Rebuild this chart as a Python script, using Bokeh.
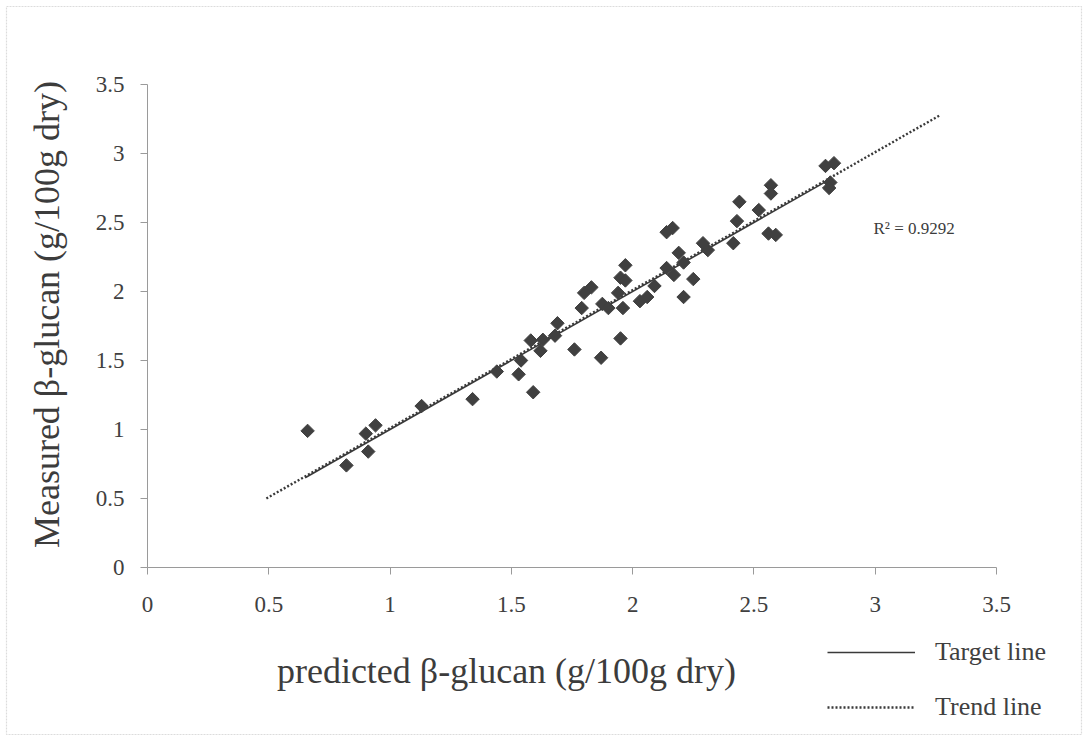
import math
from bokeh.plotting import figure
from bokeh.models import (Range1d, FixedTicker, Label, Legend, LegendItem,
                          BoxAnnotation, ColumnDataSource)
from bokeh.embed import file_html
from bokeh.resources import INLINE

# ---- data ----
predicted = [0.66, 0.82, 0.91, 0.90, 0.94, 1.13, 1.34, 1.59, 1.44, 1.53,
             1.54, 1.58, 1.63, 1.62, 1.68, 1.69, 1.76, 1.87, 1.95, 1.79,
             1.80, 1.83, 1.875, 1.90, 1.95, 1.94, 1.96, 1.97, 1.97, 2.03,
             2.06, 2.09, 2.14, 2.17, 2.14, 2.165, 2.19, 2.21, 2.21, 2.25,
             2.29, 2.31, 2.415, 2.43, 2.44, 2.52, 2.56, 2.59, 2.57, 2.57,
             2.795, 2.83, 2.815, 2.81]
measured = [0.99, 0.74, 0.84, 0.97, 1.03, 1.17, 1.22, 1.27, 1.42, 1.40,
            1.50, 1.645, 1.65, 1.57, 1.68, 1.77, 1.58, 1.52, 1.66, 1.88,
            1.99, 2.03, 1.91, 1.88, 2.10, 1.99, 1.88, 2.19, 2.08, 1.93,
            1.96, 2.04, 2.17, 2.12, 2.43, 2.46, 2.28, 2.21, 1.96, 2.09,
            2.35, 2.30, 2.35, 2.51, 2.65, 2.59, 2.42, 2.41, 2.77, 2.71,
            2.91, 2.93, 2.79, 2.75]

target_x = [0.65, 2.82]
target_y = [0.65, 2.82]
trend_x = [0.49, 3.27]
trend_y = [0.50, 3.28]

ticks = [0, 0.5, 1, 1.5, 2, 2.5, 3, 3.5]
axis_min, axis_max = 0, 3.5
r2_text = "R\u00b2 = 0.9292"
x_title = "predicted \u03b2-glucan (g/100g dry)"
y_title = "Measured \u03b2-glucan (g/100g dry)"
legend_labels = ["Target line", "Trend line"]

SERIF = "Liberation Serif"
W, H = 1083, 736
# pixel positions of the axis ends in the reference
PX0, PX1 = 147, 996   # x = 0 and x = 3.5
PY0, PY1 = 567, 84    # y = 0 and y = 3.5

# the frame covers the whole canvas; ranges chosen so the axes land where
# they are in the reference
kx = (PX1 - PX0) / (axis_max - axis_min)
ky = (PY0 - PY1) / (axis_max - axis_min)
x_range = Range1d(axis_min - PX0 / kx, axis_max + (W - PX1) / kx)
y_range = Range1d(axis_min - (H - PY0) / ky, axis_max + PY1 / ky)

p = figure(width=W, height=H, output_backend="svg", toolbar_location=None,
           x_range=x_range, y_range=y_range, min_border=0)
p.background_fill_color = "white"
p.border_fill_color = "white"
p.outline_line_color = None
p.xgrid.visible = False
p.ygrid.visible = False

p.axis.fixed_location = 0
p.axis.bounds = (axis_min, axis_max)
p.axis.ticker = FixedTicker(ticks=ticks)
p.axis.axis_line_color = "#9a9a9a"
p.axis.axis_line_width = 1
p.axis.major_tick_line_color = "#9a9a9a"
p.axis.major_tick_out = 7
p.axis.major_tick_in = 0
p.axis.minor_tick_line_color = None
p.axis.major_label_text_font = SERIF
p.axis.major_label_text_font_size = "23px"
p.axis.major_label_text_color = "#404040"
p.axis.major_label_overrides = {0: "0", 1: "1", 2: "2", 3: "3"}
p.xaxis.major_label_standoff = 22
p.yaxis.major_label_standoff = 16

# lines
trend = p.line(trend_x, trend_y, line_color="#3a3a3a", line_width=2.4,
               line_dash="2 2")
target = p.line(target_x, target_y, line_color="#3a3a3a", line_width=1.6)

# points: diamonds (rotated squares)
src = ColumnDataSource(dict(x=predicted, y=measured))
p.scatter("x", "y", source=src, marker="square", angle=math.pi / 4,
          size=9.5, fill_color="#404040", line_color="#404040")


def lab(px, py, text, size, align="left", angle=0.0):
    p.add_layout(Label(x=px, y=H - py, x_units="screen", y_units="screen",
                       text=text, text_font=SERIF, text_font_size=size,
                       text_color="#3c3c3c", text_align=align,
                       text_baseline="middle", angle=angle))


lab(873, 228, r2_text, "17px")
lab(506, 670, x_title, "36px", align="center")
lab(46, 314, y_title, "36px", align="center", angle=math.pi / 2)

# legend (location = bottom-left corner, measured from the bottom)
legend = Legend(items=[LegendItem(label=legend_labels[0], renderers=[target]),
                       LegendItem(label=legend_labels[1], renderers=[trend])],
                location=(827, H - 722), orientation="vertical",
                glyph_width=88, glyph_height=20, label_height=20,
                label_standoff=20, spacing=25, padding=0, margin=0,
                border_line_color=None, background_fill_alpha=0,
                label_text_font=SERIF, label_text_font_size="26px",
                label_text_color="#404040")
p.add_layout(legend)

# outer border of the picture
p.add_layout(BoxAnnotation(left=6, right=1081, top=H - 6, bottom=H - 734,
                           left_units="screen", right_units="screen",
                           top_units="screen", bottom_units="screen",
                           fill_color=None, line_color="#8a8a8a",
                           line_width=1.2, line_dash="2 1"))

open("out.html", "w").write(file_html(p, INLINE))
